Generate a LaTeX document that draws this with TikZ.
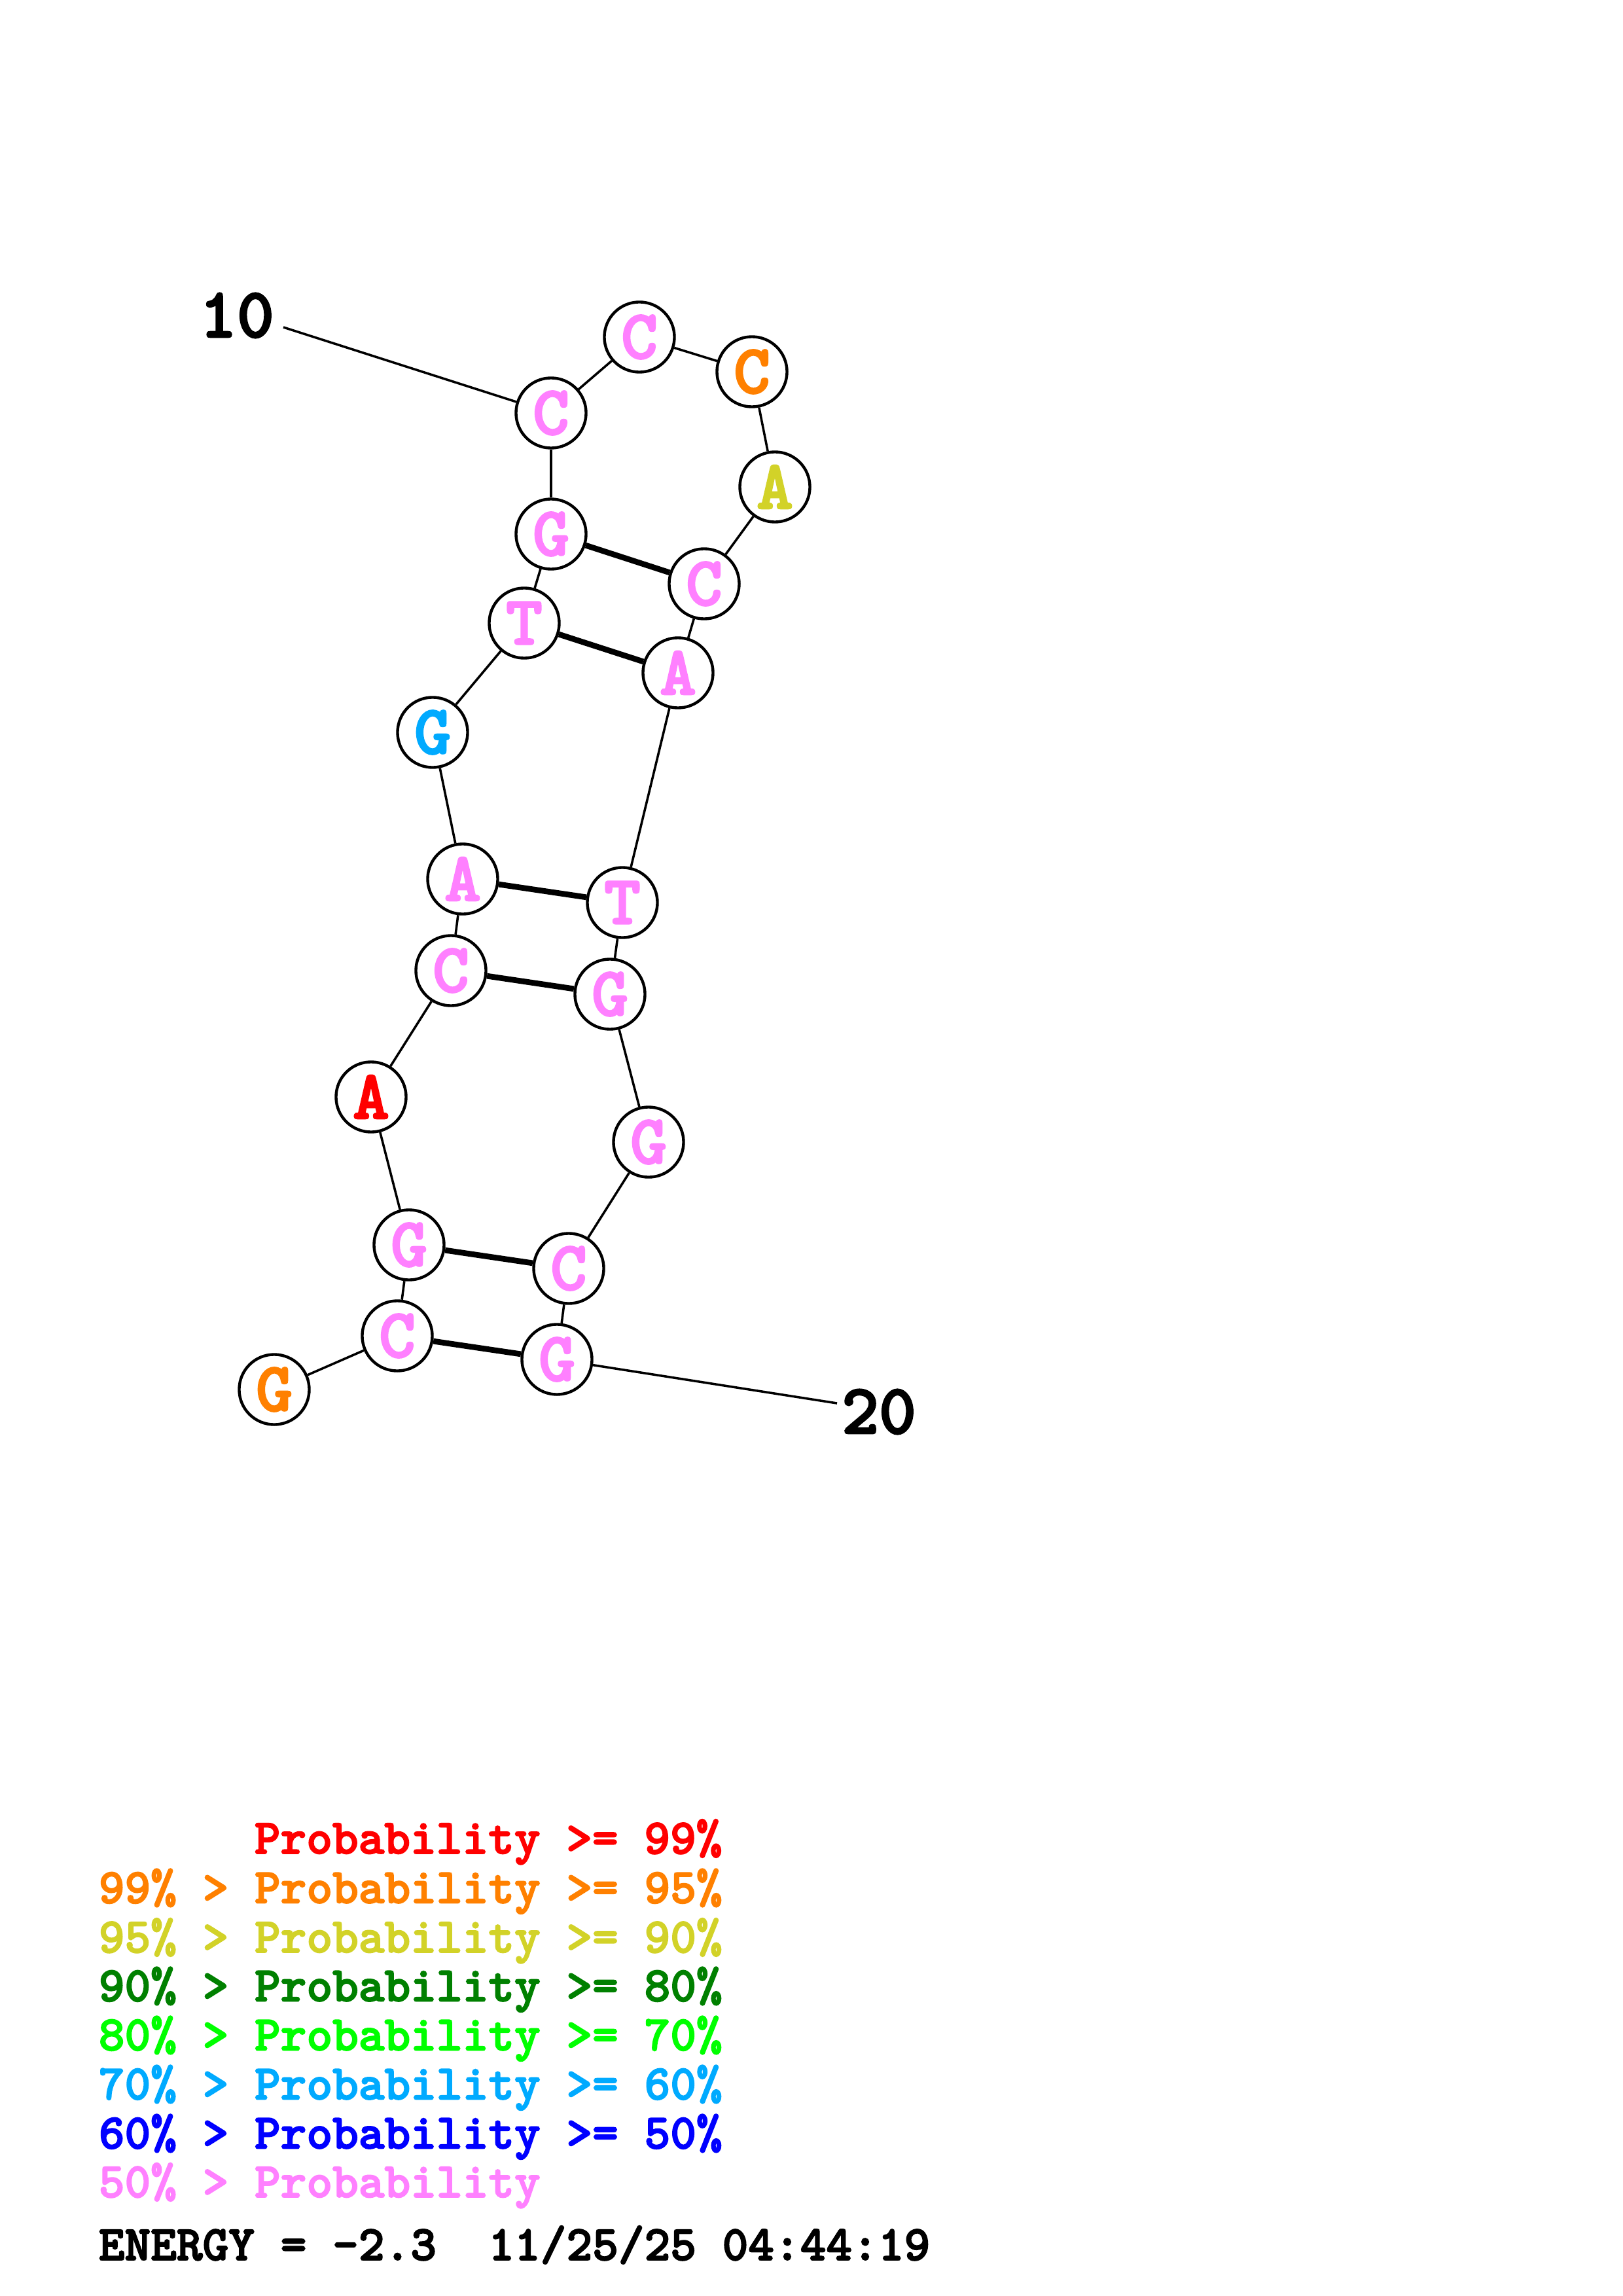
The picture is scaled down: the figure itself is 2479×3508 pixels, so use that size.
\documentclass[tikz,border=0pt]{standalone}
\usepackage{fontspec}
\newfontfamily\cour{lmmonolt10-bold.otf}[FakeBold=2.4]
\definecolor{pk}{RGB}{255,128,255}
\definecolor{orng}{RGB}{255,128,0}
\definecolor{yel}{RGB}{210,210,40}
\definecolor{dgrn}{RGB}{0,128,0}
\definecolor{lgrn}{RGB}{0,255,0}
\definecolor{lblu}{RGB}{0,170,255}
\definecolor{blu}{RGB}{0,0,255}
\definecolor{rd}{RGB}{255,0,0}
\begin{document}
\begin{tikzpicture}[x=0.24pt,y=-0.24pt,
  base/.style={circle,draw,line width=1.05pt,minimum size=25.7pt,inner sep=0pt,fill=white,
    font=\cour\fontsize{25.5pt}{25.5pt}\selectfont},
  bb/.style={line width=0.85pt},
  pr/.style={line width=2.1pt},
  numlab/.style={inner sep=0pt,font=\cour\fontsize{26pt}{26pt}\selectfont},
  leg/.style={anchor=base west,inner sep=0pt,font=\cour\fontsize{18.15pt}{18.15pt}\selectfont}]
\useasboundingbox (0,0) rectangle (2479,3508);
% nucleotides
\node[base,text=orng] (n1) at (419,2123) {G};
\node[base,text=pk] (n2) at (607,2041) {C};
\node[base,text=pk] (n3) at (625,1902) {G};
\node[base,text=rd] (n4) at (567,1676) {A};
\node[base,text=pk] (n5) at (689,1483) {C};
\node[base,text=pk] (n6) at (707,1343) {A};
\node[base,text=lblu] (n7) at (661,1119) {G};
\node[base,text=pk] (n8) at (801,952) {T};
\node[base,text=pk] (n9) at (842,816) {G};
\node[base,text=pk] (n10) at (842,631) {C};
\node[base,text=pk] (n11) at (977,515) {C};
\node[base,text=orng] (n12) at (1149,568) {C};
\node[base,text=yel] (n13) at (1184,744) {A};
\node[base,text=pk] (n14) at (1076,892) {C};
\node[base,text=pk] (n15) at (1036,1028) {A};
\node[base,text=pk] (n16) at (951,1379) {T};
\node[base,text=pk] (n17) at (932,1519) {G};
\node[base,text=pk] (n18) at (991,1745) {G};
\node[base,text=pk] (n19) at (869,1938) {C};
\node[base,text=pk] (n20) at (851,2077) {G};
% numbering labels
\node[numlab] (lab10) at (362,482) {10};
\node[numlab] (lab20) at (1343,2157) {20};
\coordinate (c10) at (433,500);
\coordinate (c20) at (1279,2144);
% backbone
\draw[bb] (n1) -- (n2);
\draw[bb] (n2) -- (n3);
\draw[bb] (n3) -- (n4);
\draw[bb] (n4) -- (n5);
\draw[bb] (n5) -- (n6);
\draw[bb] (n6) -- (n7);
\draw[bb] (n7) -- (n8);
\draw[bb] (n8) -- (n9);
\draw[bb] (n9) -- (n10);
\draw[bb] (n10) -- (n11);
\draw[bb] (n11) -- (n12);
\draw[bb] (n12) -- (n13);
\draw[bb] (n13) -- (n14);
\draw[bb] (n14) -- (n15);
\draw[bb] (n15) -- (n16);
\draw[bb] (n16) -- (n17);
\draw[bb] (n17) -- (n18);
\draw[bb] (n18) -- (n19);
\draw[bb] (n19) -- (n20);
\draw[bb] (c10) -- (n10);
\draw[bb] (n20) -- (c20);
% pairs
\draw[pr] (n9) -- (n14);
\draw[pr] (n8) -- (n15);
\draw[pr] (n6) -- (n16);
\draw[pr] (n5) -- (n17);
\draw[pr] (n3) -- (n19);
\draw[pr] (n2) -- (n20);
% legend
\node[leg,text=rd] (g1) at (388,2832) {Probability >= 99\%};
\node[leg,text=orng] (g2) at (150,2907.5) {99\% > Probability >= 95\%};
\node[leg,text=yel] (g3) at (150,2983) {95\% > Probability >= 90\%};
\node[leg,text=dgrn] (g4) at (150,3057.5) {90\% > Probability >= 80\%};
\node[leg,text=lgrn] (g5) at (150,3132.5) {80\% > Probability >= 70\%};
\node[leg,text=lblu] (g6) at (150,3207.5) {70\% > Probability >= 60\%};
\node[leg,text=blu] (g7) at (150,3282.5) {60\% > Probability >= 50\%};
\node[leg,text=pk] (g8) at (150,3357) {50\% > Probability};
\node[leg,text=black] (en) at (150,3453) {ENERGY = -2.3\ \ 11/25/25 04:44:19};
\end{tikzpicture}
\end{document}
